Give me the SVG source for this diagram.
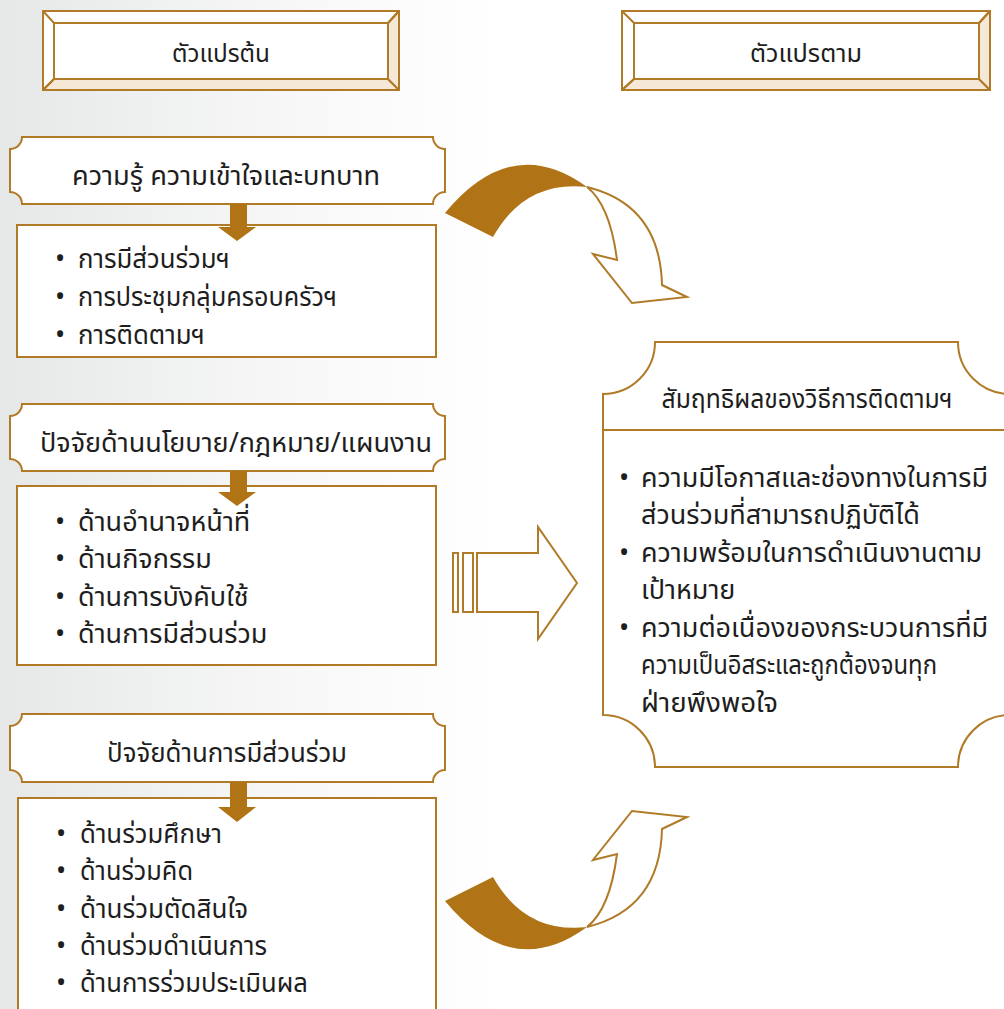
<svg xmlns="http://www.w3.org/2000/svg" width="1004" height="1009" viewBox="0 0 1004 1009">
<defs>
<linearGradient id="bg" x1="0" y1="0" x2="1" y2="0">
<stop offset="0" stop-color="#e6e8e8"/>
<stop offset="0.3" stop-color="#f8f8f8"/>
<stop offset="0.5" stop-color="#ffffff"/>
</linearGradient>
</defs>
<style>
.ln{fill:none;stroke:#b07a26;stroke-width:2}
.box{fill:#ffffff;stroke:#b07a26;stroke-width:2}
.bev{fill:#f6e8d6;stroke:#b07a26;stroke-width:2;stroke-linejoin:round}
.brown{fill:#b07417}
.t{font-family:"Noto Sans Thai","Noto Sans","DejaVu Sans",sans-serif;font-size:27px;fill:#1e1e1e}
.h{font-size:25px}
.c{text-anchor:middle}
</style>
<rect width="1004" height="1009" fill="url(#bg)"/>

<g id="header-independent">
<rect class="box" x="43" y="11" width="356" height="79"/>
<polygon class="bev" points="43,90 399,90 388,79 54,79"/>
<polygon class="bev" points="399,11 399,90 388,79 388,23"/>
<rect class="box" x="54" y="23" width="334" height="56"/>
<path class="ln" d="M43,11 L54,23 M399,11 L388,23 M43,90 L54,79"/>
<text class="t h c" x="221" y="62" textLength="98" lengthAdjust="spacingAndGlyphs">ตัวแปรต้น</text>
</g>

<g id="header-dependent">
<rect class="box" x="622" y="11" width="368" height="79"/>
<polygon class="bev" points="622,90 990,90 979,79 634,79"/>
<polygon class="bev" points="990,11 990,90 979,79 979,23"/>
<rect class="box" x="634" y="23" width="345" height="56"/>
<path class="ln" d="M622,11 L634,23 M990,11 L979,23 M622,90 L634,79"/>
<text class="t h c" x="806" y="62" textLength="112" lengthAdjust="spacingAndGlyphs">ตัวแปรตาม</text>
</g>

<g id="knowledge-title">
<path class="box" d="M22,137 H433 A12,12 0 0 0 445,149 V192 A12,12 0 0 0 433,204 H22 A12,12 0 0 0 10,192 V149 A12,12 0 0 0 22,137 Z"/>
<text class="t c" x="226" y="185" textLength="308" lengthAdjust="spacingAndGlyphs">ความรู้ ความเข้าใจและบทบาท</text>
</g>
<g id="knowledge-items">
<rect class="box" x="17" y="225" width="419" height="132"/>
<text class="t" x="55" y="268">•</text><text class="t" x="78" y="268" textLength="152" lengthAdjust="spacingAndGlyphs">การมีส่วนร่วมฯ</text>
<text class="t" x="55" y="306">•</text><text class="t" x="78" y="306" textLength="259" lengthAdjust="spacingAndGlyphs">การประชุมกลุ่มครอบครัวฯ</text>
<text class="t" x="55" y="344">•</text><text class="t" x="78" y="344" textLength="127" lengthAdjust="spacingAndGlyphs">การติดตามฯ</text>
</g>

<g id="policy-title">
<path class="box" d="M22,404 H433 A12,12 0 0 0 445,416 V459 A12,12 0 0 0 433,471 H22 A12,12 0 0 0 10,459 V416 A12,12 0 0 0 22,404 Z"/>
<text class="t c" x="236" y="452" textLength="392" lengthAdjust="spacingAndGlyphs">ปัจจัยด้านนโยบาย/กฎหมาย/แผนงาน</text>
</g>
<g id="policy-items">
<rect class="box" x="17" y="486" width="419" height="179"/>
<text class="t" x="55" y="531">•</text><text class="t" x="78" y="531">ด้านอำนาจหน้าที่</text>
<text class="t" x="55" y="568">•</text><text class="t" x="78" y="568">ด้านกิจกรรม</text>
<text class="t" x="55" y="606">•</text><text class="t" x="78" y="606">ด้านการบังคับใช้</text>
<text class="t" x="55" y="643">•</text><text class="t" x="78" y="643">ด้านการมีส่วนร่วม</text>
</g>

<g id="participation-title">
<path class="box" d="M22,714 H433 A12,12 0 0 0 445,726 V770 A12,12 0 0 0 433,782 H22 A12,12 0 0 0 10,770 V726 A12,12 0 0 0 22,714 Z"/>
<text class="t c" x="227" y="762" textLength="240" lengthAdjust="spacingAndGlyphs">ปัจจัยด้านการมีส่วนร่วม</text>
</g>
<g id="participation-items">
<rect class="box" x="18" y="798" width="418" height="220"/>
<text class="t" x="56" y="843">•</text><text class="t" x="80" y="843" textLength="142" lengthAdjust="spacingAndGlyphs">ด้านร่วมศึกษา</text>
<text class="t" x="56" y="880">•</text><text class="t" x="80" y="880" textLength="113" lengthAdjust="spacingAndGlyphs">ด้านร่วมคิด</text>
<text class="t" x="56" y="918">•</text><text class="t" x="80" y="918" textLength="168" lengthAdjust="spacingAndGlyphs">ด้านร่วมตัดสินใจ</text>
<text class="t" x="56" y="955">•</text><text class="t" x="80" y="955" textLength="187" lengthAdjust="spacingAndGlyphs">ด้านร่วมดำเนินการ</text>
<text class="t" x="56" y="992">•</text><text class="t" x="80" y="992" textLength="228" lengthAdjust="spacingAndGlyphs">ด้านการร่วมประเมินผล</text>
</g>

<g id="outcome">
<path class="box" d="M655,342 H958 A52,52 0 0 0 1010,394 V715 A52,52 0 0 0 958,767 H655 A52,52 0 0 0 603,715 V394 A52,52 0 0 0 655,342 Z"/>
<line class="ln" x1="603" y1="430" x2="1004" y2="430"/>
<text class="t c" x="807" y="408" textLength="291" lengthAdjust="spacingAndGlyphs">สัมฤทธิผลของวิธีการติดตามฯ</text>
<text class="t" x="619" y="487">•</text><text class="t" x="641" y="487" textLength="347" lengthAdjust="spacingAndGlyphs">ความมีโอกาสและช่องทางในการมี</text>
<text class="t" x="641" y="524">ส่วนร่วมที่สามารถปฏิบัติได้</text>
<text class="t" x="619" y="562">•</text><text class="t" x="641" y="562">ความพร้อมในการดำเนินงานตาม</text>
<text class="t" x="641" y="599">เป้าหมาย</text>
<text class="t" x="619" y="637">•</text><text class="t" x="641" y="637">ความต่อเนื่องของกระบวนการที่มี</text>
<text class="t" x="641" y="674" textLength="296" lengthAdjust="spacingAndGlyphs">ความเป็นอิสระและถูกต้องจนทุก</text>
<text class="t" x="641" y="712" textLength="137" lengthAdjust="spacingAndGlyphs">ฝ่ายพึงพอใจ</text>
</g>

<g id="connectors">
<g id="down-arrow-1"><rect class="brown" x="230" y="204" width="17" height="24"/><polygon class="brown" points="218,227 256,227 237,241"/></g>
<g id="down-arrow-2"><rect class="brown" x="230" y="471" width="17" height="22"/><polygon class="brown" points="218,492 256,492 237,506"/></g>
<g id="down-arrow-3"><rect class="brown" x="230" y="782" width="17" height="26"/><polygon class="brown" points="218,807 256,807 237,822"/></g>
<g id="curved-arrow-top">
<path class="brown" d="M445,213 Q512,132 587,187 Q525,180 493,237 Z"/>
<path class="box" d="M587,187 Q610,205 617,260 L593,254 L632,303 L687,297 L662,285 Q660,205 587,187 Z"/>
</g>
<g id="curved-arrow-bottom" transform="matrix(1 0 0 -1 0 1114)">
<path class="brown" d="M445,213 Q512,132 587,187 Q525,180 493,237 Z"/>
<path class="box" d="M587,187 Q610,205 617,260 L593,254 L632,303 L687,297 L662,285 Q660,205 587,187 Z"/>
</g>
<g id="block-arrow">
<rect class="box" x="453" y="553" width="5" height="59"/>
<rect class="box" x="463" y="553" width="10" height="59"/>
<path class="box" d="M477,553 H538 V527 L577,583 L538,639 V612 H477 Z"/>
</g>
</g>
</svg>
